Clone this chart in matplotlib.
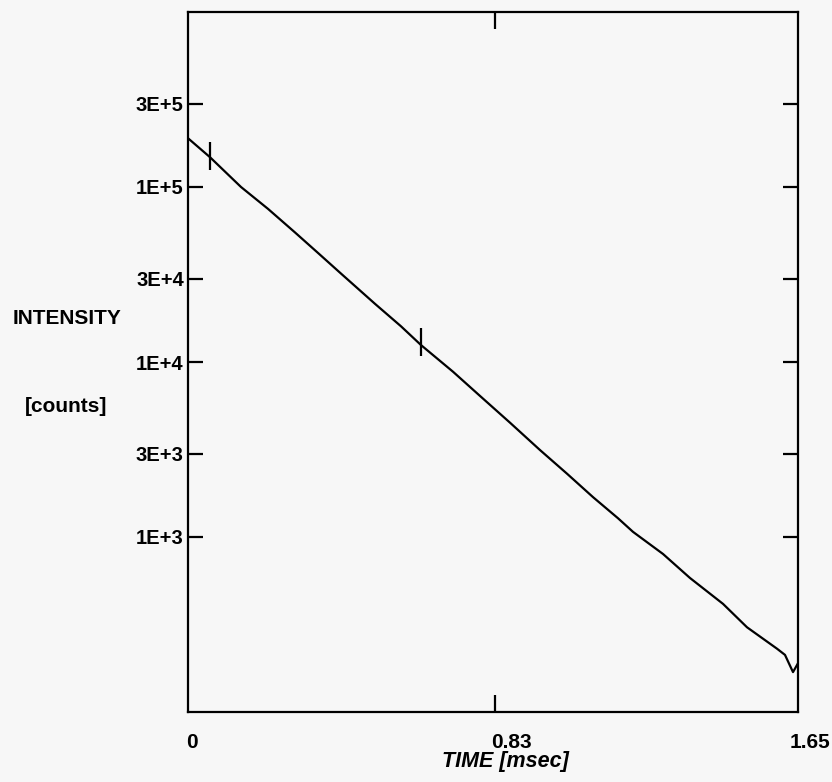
import numpy as np
import matplotlib
matplotlib.use("Agg")
import matplotlib.pyplot as plt
from matplotlib.transforms import ScaledTranslation

plt.rcParams['font.family'] = ['Liberation Sans', 'DejaVu Sans']

# decay curve
time_ms = [0.0, 0.0595, 0.1434, 0.2164, 0.2894, 0.3516, 0.4139, 0.5058, 0.5761,
           0.6302, 0.7168, 0.7898, 0.871, 0.9521, 1.0252, 1.0955, 1.1631, 1.2037,
           1.2848, 1.3579, 1.4471, 1.512, 1.5932, 1.6148, 1.6365, 1.65]
counts = [1.9e5, 1.48e5, 1.0e5, 7.5e4, 5.5e4, 4.2e4, 3.2e4, 2.15e4, 1.6e4,
          1.25e4, 8.8e3, 6.4e3, 4.5e3, 3.14e3, 2.3e3, 1.69e3, 1.28e3, 1.07e3,
          800, 583, 415, 305, 230, 212, 169, 190]

# cursor marks on the curve
cursor_t = [0.0595, 0.6302]
cursor_c = [1.5e5, 1.3e4]

ytick_vals = [1e3, 3e3, 1e4, 3e4, 1e5, 3e5]
ytick_labels = ["1E+3", "3E+3", "1E+4", "3E+4", "1E+5", "3E+5"]
xtick_vals = [0, 0.83, 1.65]
xtick_labels = ["0", "0.83", "1.65"]
xlabel_shift = [4, 17, 12]   # label centre right of its tick, px

bg = "#f7f7f7"
fig = plt.figure(figsize=(8.32, 7.82), dpi=100, facecolor=bg)
ax = fig.add_axes([188/832, 1 - 712/782, 610/832, 700/782], facecolor=bg)

ax.plot(time_ms, counts, color="black", lw=1.6)
ax.plot(cursor_t, cursor_c, ls="none", marker="|", ms=20, mew=1.6, color="black")

ax.set_yscale("log")
ax.set_xlim(0, 1.65)
ax.set_ylim(1e2, 1e6)

ax.yaxis.set_minor_locator(matplotlib.ticker.NullLocator())
ax.set_yticks(ytick_vals)
ax.set_yticklabels(ytick_labels, fontsize=14.5, fontweight="bold")
ax.tick_params(axis="y", which="major", direction="in", left=True, right=True,
               length=11, width=1.6, pad=3)

ax.set_xticks([0.83])
ax.set_xticklabels([])
ax.tick_params(axis="x", direction="in", top=True, bottom=True, length=12, width=1.6)
for v, lab, dx in zip(xtick_vals, xtick_labels, xlabel_shift):
    tr = ax.get_xaxis_transform() + ScaledTranslation(dx / 100, 0, fig.dpi_scale_trans)
    ax.text(v, -0.03, lab, transform=tr, ha="center", va="top",
            fontsize=15, fontweight="bold")

for s in ax.spines.values():
    s.set_linewidth(1.6)

fig.text(67/832, 1 - 318/782, "INTENSITY", ha="center", va="center",
         fontsize=15, fontweight="bold")
fig.text(66/832, 1 - 407/782, "[counts]", ha="center", va="center",
         fontsize=15, fontweight="bold")
fig.text(505/832, 1 - 762/782, "TIME [msec]", ha="center", va="center",
         fontsize=15.5, fontweight="bold", style="italic")

fig.savefig("out.png", dpi=100, facecolor=bg)
